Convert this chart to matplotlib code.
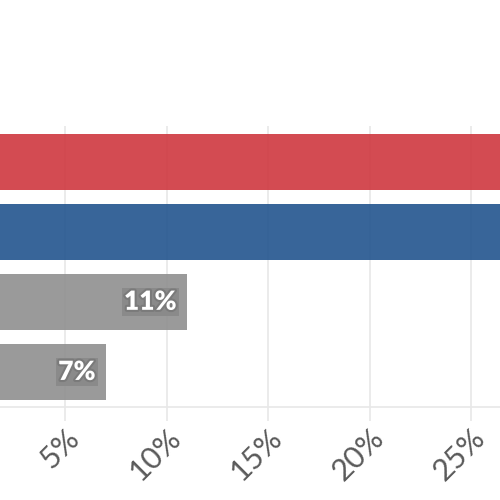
import matplotlib
matplotlib.use("Agg")
import matplotlib.pyplot as plt
import matplotlib.patheffects as pe
from matplotlib.ticker import FuncFormatter

plt.rcParams['font.family'] = ['Lato', 'DejaVu Sans']

categories = ["A", "B", "C", "D"]
values = [34, 32, 11, 7]
colors = ["#cf373f", "#22548e", "#8f8f8f", "#8f8f8f"]
show_label = [False, False, True, True]
xticks = [5, 10, 15, 20, 25]

fig = plt.figure(figsize=(5, 5), dpi=100)
ax = fig.add_axes([-0.073, 0.186, 1.218, 0.561])

ypos = list(range(len(categories)))
ax.barh(ypos, values, height=0.8, color=colors, alpha=0.9, zorder=2)
ax.set_ylim(len(categories) - 0.5, -0.5)
ax.set_xlim(0, 30)

for y, v, s in zip(ypos, values, show_label):
    if s:
        t = ax.text(v - 0.5, y, f"{v}%", ha="right", va="center",
                    color="white", fontsize=19, fontweight="heavy", zorder=3,
                    bbox=dict(boxstyle="square,pad=0.08", fc="#8a8a8a", ec="none"))
        t.set_path_effects([pe.withStroke(linewidth=3, foreground="#7a7a7a")])

ax.set_xticks(xticks)
ax.xaxis.set_major_formatter(FuncFormatter(lambda x, p: f"{x:.0f}%"))
ax.grid(axis="x", color="#e8e8e8", linewidth=1.2, zorder=0)
ax.set_yticks([])
ax.tick_params(axis="x", length=10, width=1.2, color="#e8e8e8", labelsize=22,
               labelcolor="#5a5a5a", pad=2)
for lab in ax.get_xticklabels():
    lab.set_rotation(45)
    lab.set_ha("right")
    lab.set_rotation_mode("anchor")
for side in ["top", "right", "left"]:
    ax.spines[side].set_visible(False)
ax.spines["bottom"].set_color("#e8e8e8")
ax.spines["bottom"].set_linewidth(1.2)

fig.savefig("out.png", dpi=100)
